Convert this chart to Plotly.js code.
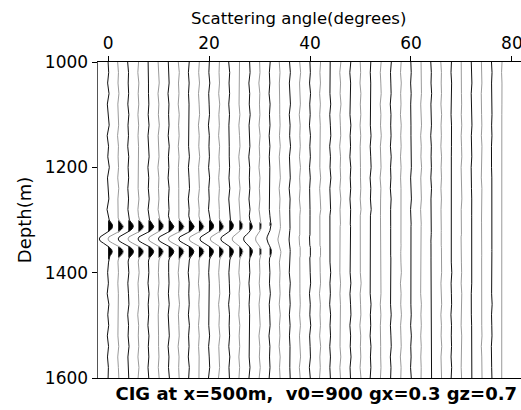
<!DOCTYPE html>
<html>
<head>
<meta charset="utf-8">
<script src="https://cdn.plot.ly/plotly-3.0.1.min.js"></script>
<style>html,body{margin:0;padding:0;background:#fff;}#chart{width:521px;height:410px;}</style>
</head>
<body>
<div id="chart"></div>
<script>
// Trace positions (scattering angle, degrees)
const angles = [0,2,4,6,8,10,12,14,16,18,20,22,24,26,28,30,32,34,36,38,40,42,44,46,48,50,52,54,56,58,60,62,64,66,68,70,72,74,76,78];
// Event amplitude per trace
const eventAmp = [0.9,1.0,1.0,1.0,1.0,1.0,1.0,1.0,0.98,0.95,0.92,0.9,0.85,0.72,0.55,0.4,0.28,0.18,0.1,0.06,0.04,0.03,0.02,0.02,0.02,0.02,0.02,0.02,0.02,0.02,0.02,0.02,0.02,0.02,0.02,0.02,0.02,0.02,0.02,0.02];
// Background ripple level per trace
const noiseAmp = [0.3,0.18,0.18,0.18,0.18,0.18,0.18,0.18,0.18,0.18,0.18,0.18,0.18,0.18,0.18,0.18,0.18,0.18,0.18,0.18,0.18,0.18,0.17,0.17,0.16,0.16,0.15,0.15,0.14,0.14,0.13,0.13,0.12,0.12,0.11,0.1,0.1,0.1,0.1,0.1];
// Event wavelet: depth offsets (m) around event centre and shape values (degrees at amplitude 1)
const eventDepth = 1336;
const waveOffset = [-44,-40,-36,-32,-28,-24,-20,-16,-12,-8,-4,0,4,8,12,16,20,24,28,32,36,40,44];
const waveValue  = [0,0.05,0.2,0.5,0.85,1.0,0.85,0.4,-0.3,-1.1,-1.8,-2.0,-1.8,-1.1,-0.3,0.4,0.85,1.0,0.85,0.5,0.2,0.05,0];
// Background ripple samples (depth every 20 m)
const rippleDepth = [1000,1020,1040,1060,1080,1100,1120,1140,1160,1180,1200,1220,1240,1260,1280,1300,1320,1340,1360,1380,1400,1420,1440,1460,1480,1500,1520,1540,1560,1580,1600];
const rippleValue = [0,0.4,-0.3,0.6,-0.5,0.2,0.7,-0.6,0.3,-0.2,0.8,-0.4,0.1,0.5,-0.7,0.3,-0.1,0.4,-0.5,0.6,-0.3,0.2,-0.6,0.5,-0.2,0.4,-0.5,0.3,-0.4,0.2,0];
// Tick labels
const xTicks = [0,20,40,60,80];
const yTicks = [1000,1200,1400,1600];

const traces = [];
angles.forEach((a, k) => {
  const color = (k % 2 === 0) ? '#111111' : '#9a9a9a';
  const pts = [];
  const n = rippleDepth.length;
  rippleDepth.forEach((d, i) => {
    if (d < eventDepth - 44 || d > eventDepth + 44) {
      const r = rippleValue[(i + k * 7) % n];
      pts.push([d, r * noiseAmp[k]]);
    }
  });
  waveOffset.forEach((o, i) => {
    const d = eventDepth + o;
    const ri = Math.round((d - 1000) / 20);
    const r = rippleValue[(ri + k * 7) % n] * noiseAmp[k] * 0.5;
    pts.push([d, eventAmp[k] * waveValue[i] + r]);
  });
  pts.sort((p, q) => p[0] - q[0]);
  const ys = pts.map(p => p[0]);
  const xs = pts.map(p => a + p[1]);
  const fy = [], fx = [];
  for (let i = 0; i < pts.length; i++) {
    if (i > 0) {
      const v0 = pts[i-1][1], v1 = pts[i][1];
      if ((v0 > 0) !== (v1 > 0) && v0 !== v1) {
        const t = v0 / (v0 - v1);
        fy.push(pts[i-1][0] + t * (pts[i][0] - pts[i-1][0]));
        fx.push(a);
      }
    }
    fy.push(pts[i][0]);
    fx.push(a + (pts[i][1] > 0.25 ? pts[i][1] : 0));
  }
  traces.push({x: [a, a], y: [1000, 1600], mode: 'lines', line: {width: 0, color: 'rgba(0,0,0,0)'}, hoverinfo: 'skip', showlegend: false});
  traces.push({x: fx, y: fy, mode: 'lines', fill: 'tonextx', fillcolor: '#000000', line: {width: 0, color: 'rgba(0,0,0,0)'}, hoverinfo: 'skip', showlegend: false});
  traces.push({x: xs, y: ys, mode: 'lines', line: {width: 1, color: color}, hoverinfo: 'skip', showlegend: false});
});

const fam = 'DejaVu Sans, Liberation Sans, Arial, sans-serif';
const font = {family: fam, size: 17, color: '#000'};
const layout = {
  width: 521, height: 410,
  margin: {l: 98, r: 0, t: 62, b: 32},
  paper_bgcolor: '#fff', plot_bgcolor: '#fff',
  font: font,
  showlegend: false,
  title: {text: 'CIG at x=500m,  v0=900 gx=0.3 gz=0.7', font: {family: fam, size: 18, color: '#000', weight: 'bold'},
          x: 0.607, xref: 'container', xanchor: 'center', y: 0.04, yref: 'container', yanchor: 'middle'},
  xaxis: {
    side: 'top', range: [-2, 81.8], tickvals: xTicks, ticktext: xTicks.map(String),
    ticks: 'outside', ticklen: 5, tickcolor: '#000', showgrid: false, zeroline: false,
    showline: true, linecolor: '#000', linewidth: 1, mirror: true,
    tickfont: font, ticklabeloverflow: 'allow'
  },
  yaxis: {
    range: [1600, 1000], tickvals: yTicks, ticktext: yTicks.map(String),
    ticks: 'outside', ticklen: 5, tickcolor: '#000', showgrid: false, zeroline: false,
    showline: true, linecolor: '#555', linewidth: 1.5, mirror: false,
    tickfont: font,
    title: {text: 'Depth(m)', font: {family: fam, size: 18, color: '#000'}, standoff: 8}
  },
  annotations: [{
    text: 'Scattering angle(degrees)', xref: 'paper', yref: 'paper', x: 0.475, y: 1.139,
    xanchor: 'center', yanchor: 'middle', showarrow: false,
    font: {family: fam, size: 16.5, color: '#000'}
  }]
};
Plotly.newPlot('chart', traces, layout, {staticPlot: true, displayModeBar: false});
</script>
</body>
</html>
